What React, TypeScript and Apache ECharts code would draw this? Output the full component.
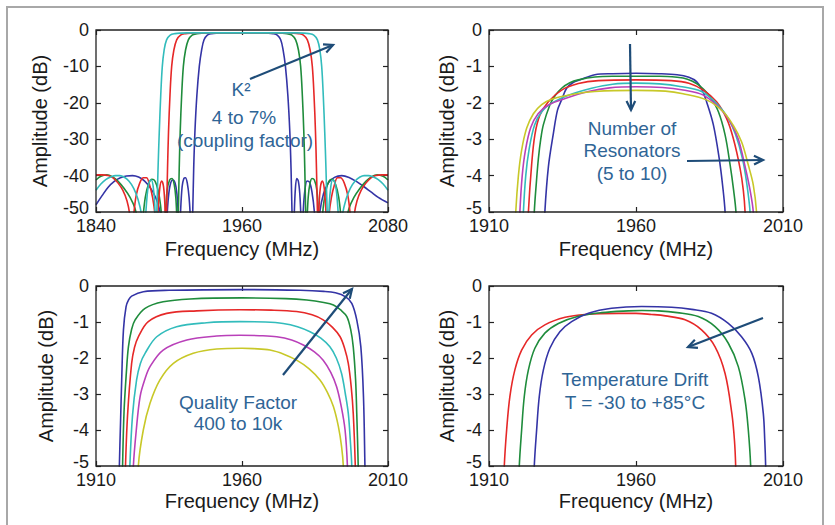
import React, { useEffect, useRef } from 'react';
import * as echarts from 'echarts';

// ---------- Panel 1: coupling factor K² 4..7 % (x 1840..2080, y -50..0) ----------
const p1XTicks = [1840, 1960, 2080];
const p1YRange = [-50, 0];
const p1Blue = [
  [1840, -48], [1845, -45.5], [1850, -43.2], [1855, -41.6], [1860, -40.6], [1865, -40.1], [1870, -40], [1875, -40.4],
  [1880, -41.5], [1885, -43.5], [1889, -46], [1892, -49], [1894.5, -53], [1896.5, -60], [1898, -53], [1899.5, -46],
  [1901, -42.5], [1903, -41.2], [1905, -42], [1906.5, -45], [1907.8, -52], [1908.5, -60], [1909.5, -50], [1910.8, -43],
  [1912.2, -40.8], [1913.5, -40.6], [1915, -42], [1916.5, -46], [1917.8, -53], [1918.6, -60],
  [1919.5, -50], [1920.3, -38], [1921.3, -28], [1922.9, -18], [1924.9, -10], [1926.8, -5.5], [1928.8, -2.7],
  [1931.5, -1.4], [1935, -1.0], [1939, -0.85], [1945, -0.8], [1960, -0.8], [1975, -0.8], [1981.5, -0.85],
  [1985.5, -1.0], [1989, -1.4], [1991.8, -2.7], [1993.8, -5.5], [1995.7, -10], [1997.7, -18], [1999.3, -28],
  [2000.3, -38], [2001.1, -50], [2002, -60], [2002.8, -52], [2003.8, -44], [2005, -40.8], [2006.3, -41.5],
  [2007.5, -45], [2008.5, -52], [2009.3, -60], [2010.3, -50], [2011.7, -44], [2013.5, -41.5], [2015.5, -41.8],
  [2017.5, -44.5], [2019.5, -50], [2021.5, -60], [2024, -50], [2027, -45], [2031, -42], [2036, -40.5], [2042, -40],
  [2048, -40.5], [2054, -41.6], [2060, -43], [2066, -44.5], [2072, -46], [2080, -47.5],
];
const p1Green = [
  [1840, -41.2], [1844, -40.2], [1848.8, -39.8], [1853, -40.2], [1858, -41.5], [1863, -43.5], [1868, -46], [1872, -49],
  [1874.5, -53], [1876.5, -60], [1878.5, -52], [1880.5, -46], [1883, -42.5], [1886, -41], [1888.5, -41.5], [1891, -44],
  [1893, -48], [1894.5, -54], [1895.5, -60], [1897, -51], [1898.5, -44], [1900.5, -41.2], [1902.5, -40.8],
  [1904.3, -42.5], [1905.6, -46], [1906.6, -53], [1907.2, -60],
  [1907.7, -50], [1908.4, -38], [1909.2, -28], [1910.4, -18], [1911.8, -10], [1913.6, -5.5], [1915.9, -2.7],
  [1919, -1.4], [1923, -1.0], [1927, -0.85], [1933, -0.8], [1960, -0.8], [1987, -0.8], [1993, -0.85], [1997, -1.0],
  [2001, -1.4], [2004.1, -2.7], [2006.4, -5.5], [2008.2, -10], [2009.6, -18], [2010.8, -28], [2011.6, -38],
  [2012.3, -50], [2012.8, -60], [2013.4, -53], [2014.4, -46], [2015.7, -42.5], [2017.5, -40.8], [2019.5, -41.2],
  [2021.5, -44], [2023, -51], [2024.5, -60], [2025.5, -54], [2027, -48], [2029, -44], [2031.5, -41.5], [2034, -41],
  [2037, -42.5], [2039.5, -46], [2041.5, -52], [2043.5, -60], [2045.5, -53], [2048, -49], [2052, -46], [2057, -43.5],
  [2062, -41.5], [2067, -40.2], [2071.2, -39.8], [2076, -40.2], [2080, -41.2],
];
const p1Red = [
  [1840, -39.8], [1845, -39.8], [1850, -40], [1854, -40.6], [1858, -42], [1862, -44], [1865.5, -47], [1867.8, -51],
  [1869.3, -60], [1871, -51], [1873, -45.5], [1876, -42], [1879, -40.6], [1881.5, -40.6], [1884, -42.5], [1886.5, -46],
  [1888.5, -51], [1889.7, -60], [1891, -50], [1892.4, -43.5], [1894, -41.5], [1895.5, -43], [1896.6, -48], [1897.3, -60],
  [1898, -50], [1898.8, -38], [1899.6, -28], [1900.8, -18], [1902.2, -10], [1904, -5.5], [1906.3, -2.7], [1909.5, -1.4],
  [1913.5, -1.0], [1918, -0.85], [1924, -0.8], [1960, -0.8], [1996, -0.8], [2002, -0.85], [2006.5, -1.0],
  [2010.5, -1.4], [2013.7, -2.7], [2016, -5.5], [2017.8, -10], [2019.2, -18], [2020.4, -28], [2021.2, -38],
  [2022, -50], [2022.7, -60], [2023.4, -48], [2024.5, -43], [2026, -41.5], [2027.6, -43.5], [2029, -50], [2030.3, -60],
  [2031.5, -51], [2033.5, -46], [2036, -42.5], [2038.5, -40.6], [2041, -40.6], [2044, -42], [2047, -45.5], [2049, -51],
  [2050.7, -60], [2052.2, -51], [2054.5, -47], [2058, -44], [2062, -42], [2066, -40.6], [2070, -40], [2075, -39.8],
  [2080, -39.8],
];
const p1Cyan = [
  [1840, -44], [1844, -42.3], [1848, -41.1], [1852, -40.4], [1856, -40], [1859.7, -40], [1863, -40.4], [1867, -41.5],
  [1871, -43.5], [1874.5, -46.5], [1877.5, -51], [1879.3, -60], [1881, -50], [1882.5, -44], [1884, -41.5],
  [1885.5, -41.2], [1887, -43], [1888.3, -48], [1889.1, -60],
  [1890, -50], [1891, -38], [1892, -28], [1893.2, -18], [1894.5, -10], [1896, -5.5], [1898, -2.7], [1901, -1.4],
  [1905, -1.0], [1909.5, -0.85], [1915, -0.8], [1960, -0.8], [2005, -0.8], [2010.5, -0.85], [2015, -1.0],
  [2019, -1.4], [2022, -2.7], [2024, -5.5], [2025.5, -10], [2026.8, -18], [2028, -28], [2029, -38], [2030, -50],
  [2030.9, -60], [2031.7, -48], [2033, -43], [2034.5, -41.2], [2036, -41.5], [2037.5, -44], [2039, -50], [2040.7, -60],
  [2042.5, -51], [2045.5, -46.5], [2049, -43.5], [2053, -41.5], [2057, -40.4], [2060.3, -40], [2064, -40],
  [2068, -40.4], [2072, -41.1], [2076, -42.3], [2080, -44],
];

// ---------- Panel 2: number of resonators 5..10 (x 1910..2010, y -5..0) ----------
const p2XTicks = [1910, 1960, 2010];
const p2YRange = [-5, 0];
const p2Blue = [
  [1928.6, -6], [1929, -5], [1930.2, -3.76], [1931.9, -2.84], [1933.3, -2.2], [1934.7, -1.92], [1936.4, -1.6],
  [1938.5, -1.45], [1941, -1.37], [1946, -1.23], [1952, -1.2], [1960, -1.19], [1968, -1.2], [1974, -1.23],
  [1978, -1.3], [1980.6, -1.42], [1982.5, -1.65], [1984, -1.97], [1986.3, -2.6], [1988.3, -3.53], [1989.5, -4.3],
  [1990.3, -5], [1990.6, -6],
];
const p2Green = [
  [1925, -6], [1925.4, -5], [1926.1, -4.2], [1926.8, -3.53], [1927.6, -3], [1928.5, -2.6], [1930.7, -2.06],
  [1932.5, -1.8], [1934.7, -1.6], [1937.5, -1.45], [1940.4, -1.37], [1946, -1.29], [1952, -1.27], [1960, -1.27],
  [1968, -1.27], [1974, -1.3], [1977.5, -1.35], [1980.6, -1.47], [1983, -1.63], [1985.2, -1.83], [1988, -2.24],
  [1990.3, -2.88], [1992, -3.7], [1993.2, -4.4], [1994, -5], [1994.4, -6],
];
const p2Red = [
  [1923, -6], [1923.4, -5], [1924.5, -3.7], [1925.6, -2.88], [1927.3, -2.34], [1930.2, -1.97], [1934.7, -1.65],
  [1940.4, -1.47], [1947.2, -1.39], [1960, -1.37], [1972, -1.39], [1978, -1.46], [1982.9, -1.65], [1987.4, -1.97],
  [1990.8, -2.43], [1993.1, -2.98], [1995.4, -3.8], [1996.5, -4.4], [1997.1, -5], [1997.5, -6],
];
const p2Cyan = [
  [1921.3, -6], [1921.7, -5], [1922.5, -4], [1923.6, -3.3], [1925.5, -2.61], [1928, -2.24], [1931.3, -2.01],
  [1937, -1.79], [1944.9, -1.6], [1952, -1.49], [1960, -1.46], [1968, -1.48], [1975, -1.55], [1982.3, -1.69],
  [1987.9, -2.06], [1991.3, -2.42], [1993.9, -2.88], [1996.2, -3.53], [1997.6, -4.17], [1998.8, -5], [1999.2, -6],
];
const p2Magenta = [
  [1920.1, -6], [1920.5, -5], [1921.3, -4], [1922.4, -3.3], [1924.2, -2.68], [1926.7, -2.3], [1930.2, -2.06],
  [1935.9, -1.88], [1943.8, -1.69], [1951, -1.59], [1960, -1.56], [1969, -1.58], [1976, -1.65], [1982.9, -1.79],
  [1988.5, -2.15], [1991.9, -2.5], [1994.8, -3.0], [1997.1, -3.75], [1998.8, -4.4], [1999.9, -5], [2000.3, -6],
];
const p2Yellow = [
  [1918.7, -6], [1919.1, -5], [1920, -4], [1921.1, -3.3], [1922.8, -2.7], [1925.1, -2.3], [1927.9, -2.05],
  [1931.3, -1.9], [1938.1, -1.77], [1946, -1.69], [1960, -1.66], [1970, -1.68], [1976, -1.75], [1984, -1.92],
  [1989.6, -2.24], [1993, -2.61], [1995.9, -3.07], [1998.2, -3.71], [1999.9, -4.26], [2001, -5], [2001.4, -6],
];

// ---------- Panel 3: quality factor 400..10k ----------
const p3XTicks = [1910, 1960, 2010];
const p3YRange = [-5, 0];
const p3Blue = [
  [1917.8, -6], [1918, -5], [1918.4, -3.8], [1918.8, -2.61], [1919.4, -1.22], [1920.3, -0.57], [1921.2, -0.38],
  [1922.2, -0.28], [1926.2, -0.16], [1935, -0.12], [1960, -0.1], [1980, -0.12], [1988, -0.15], [1992, -0.19],
  [1995.5, -0.3], [1997.6, -0.48], [1999.3, -0.94], [2000.7, -1.69], [2001.6, -3.07], [2002.1, -5], [2002.3, -6],
];
const p3Green = [
  [1918.9, -6], [1919.1, -5], [1919.6, -3.5], [1920.4, -2.4], [1921.1, -1.69], [1922.2, -1.2], [1923.4, -0.94],
  [1926.8, -0.62], [1933, -0.44], [1942.2, -0.36], [1960, -0.33], [1975, -0.35], [1982.2, -0.39], [1988, -0.46],
  [1991.3, -0.53], [1994, -0.68], [1995.9, -0.85], [1997.2, -1.2], [1998.1, -1.69], [1998.9, -2.6], [1999.3, -3.54],
  [1999.8, -5], [2000, -6],
];
const p3Red = [
  [1919.8, -6], [1920.1, -5], [1920.8, -3.6], [1922.2, -2.15], [1923.2, -1.7], [1924.5, -1.41], [1927.9, -0.99],
  [1934.2, -0.76], [1944.5, -0.69], [1959.3, -0.66], [1970, -0.67], [1978.7, -0.71], [1984, -0.8], [1987.8, -0.94],
  [1991, -1.15], [1993.6, -1.41], [1995.2, -1.75], [1996.4, -2.15], [1997.4, -2.8], [1998.1, -3.54], [1998.8, -5],
  [1999, -6],
];
const p3Cyan = [
  [1921.3, -6], [1921.6, -5], [1922.5, -3.6], [1923.9, -2.61], [1925.2, -2.15], [1926.8, -1.87], [1930.8, -1.41],
  [1937.6, -1.13], [1947.9, -1.02], [1959.3, -0.99], [1968, -1.0], [1974.1, -1.04], [1979, -1.13], [1983.3, -1.27],
  [1987, -1.45], [1990.1, -1.69], [1992.3, -2.0], [1994.1, -2.43], [1995.4, -3], [1996.4, -3.54], [1997.1, -4.3],
  [1997.6, -5], [1997.8, -6],
];
const p3Magenta = [
  [1922.5, -6], [1922.8, -5], [1923.8, -4], [1925.1, -3.07], [1926.7, -2.6], [1928.5, -2.24], [1933, -1.78],
  [1941.1, -1.5], [1951.3, -1.39], [1959.3, -1.37], [1966, -1.38], [1971.9, -1.41], [1977, -1.5], [1981, -1.64],
  [1984.8, -1.83], [1987.8, -2.06], [1990.4, -2.4], [1992.4, -2.8], [1994, -3.35], [1995.3, -4], [1996.1, -5],
  [1996.3, -6],
];
const p3Yellow = [
  [1924.2, -6], [1924.5, -5], [1926.2, -4], [1928.5, -3.26], [1931.9, -2.61], [1936.5, -2.15], [1943.3, -1.87],
  [1951.3, -1.75], [1960, -1.73], [1964, -1.74], [1969.6, -1.78], [1974.5, -1.9], [1978.7, -2.06], [1983, -2.3],
  [1986.7, -2.61], [1989.2, -2.95], [1991.3, -3.35], [1993, -3.9], [1994.1, -4.46], [1994.7, -5], [1994.9, -6],
];

// ---------- Panel 4: temperature drift -30..+85 °C ----------
const p4XTicks = [1910, 1960, 2010];
const p4YRange = [-5, 0];
const p4Red = [
  [1914.9, -6], [1915.2, -5], [1916, -4], [1917.1, -3.07], [1918.8, -2.33], [1921.1, -1.78], [1924.5, -1.36],
  [1929, -1.08], [1935.9, -0.87], [1942.7, -0.79], [1954, -0.76], [1960, -0.76], [1965.3, -0.79], [1970, -0.83],
  [1976.7, -0.94], [1982.3, -1.22], [1986.9, -1.69], [1990.3, -2.43], [1992.6, -3.54], [1993.5, -4.3],
  [1993.9, -5], [1994.1, -6],
];
const p4Green = [
  [1920, -6], [1920.3, -5], [1921.1, -4], [1922, -3.07], [1923.4, -2.33], [1925.6, -1.73], [1929, -1.31],
  [1933.6, -1.04], [1940.4, -0.84], [1948.3, -0.74], [1957.4, -0.69], [1962, -0.68], [1967.6, -0.69], [1974, -0.74],
  [1981.2, -0.85], [1986.9, -1.13], [1991.4, -1.59], [1994.8, -2.24], [1997.1, -3.17], [1998.2, -4], [1999, -5],
  [1999.2, -6],
];
const p4Blue = [
  [1925.1, -6], [1925.4, -5], [1926.2, -4], [1927.1, -3.07], [1928.5, -2.33], [1930.7, -1.73], [1934.1, -1.27],
  [1938.1, -0.99], [1943.8, -0.76], [1951.7, -0.62], [1961.9, -0.57], [1972.1, -0.59], [1979, -0.65], [1985.7, -0.76],
  [1991.4, -1.04], [1995.9, -1.41], [1999.4, -1.87], [2001.6, -2.52], [2003.3, -3.54], [2003.8, -4.3], [2004.1, -5],
  [2004.3, -6],
];

// ---------- styles ----------
const C = {
  blue: '#3434a6',
  green: '#1f8c3c',
  red: '#e62828',
  cyan: '#32bcbc',
  magenta: '#b940b9',
  yellow: '#c8c828',
};
const TEXT_BLUE = '#2f6596';
const ARROW_BLUE = '#1e4c78';
const AXIS_COLOR = '#222';
const LABEL_COLOR = '#1a1a1a';
const FONT = '"Liberation Sans", Arial, sans-serif';

const GRIDS = [
  { left: 96, top: 30, width: 292, height: 182 },
  { left: 489, top: 30, width: 294, height: 182 },
  { left: 96, top: 286, width: 292, height: 180 },
  { left: 489, top: 286, width: 294, height: 180 },
];

export default function App() {
  const ref = useRef<HTMLDivElement>(null);
  useEffect(() => {
    if (!ref.current) return;
    const tickSize = 18;
    const nameSize = 20;
    const noteSize = 19;

    const chart = echarts.init(ref.current, null, { renderer: 'svg' });

    const panels = [
      { xr: [1840, 2080], yr: p1YRange, xt: p1XTicks, yi: 10, ygap: 46, xgap: 27,
        series: [[p1Blue, C.blue], [p1Green, C.green], [p1Red, C.red], [p1Cyan, C.cyan]] },
      { xr: [1910, 2010], yr: p2YRange, xt: p2XTicks, yi: 1, ygap: 32, xgap: 27,
        series: [[p2Blue, C.blue], [p2Green, C.green], [p2Red, C.red], [p2Cyan, C.cyan], [p2Magenta, C.magenta], [p2Yellow, C.yellow]] },
      { xr: [1910, 2010], yr: p3YRange, xt: p3XTicks, yi: 1, ygap: 40, xgap: 25,
        series: [[p3Blue, C.blue], [p3Green, C.green], [p3Red, C.red], [p3Cyan, C.cyan], [p3Magenta, C.magenta], [p3Yellow, C.yellow]] },
      { xr: [1910, 2010], yr: p4YRange, xt: p4XTicks, yi: 1, ygap: 32, xgap: 25,
        series: [[p4Red, C.red], [p4Green, C.green], [p4Blue, C.blue]] },
    ];

    const grid: any[] = [];
    const xAxis: any[] = [];
    const yAxis: any[] = [];
    const series: any[] = [];
    const noLine = { show: false, onZero: false };
    const tick = (custom?: number[]) => ({
      show: true, inside: true, length: 5, lineStyle: { color: AXIS_COLOR, width: 1.2 },
      ...(custom ? { customValues: custom } : {}),
    });

    panels.forEach((p, i) => {
      grid.push({
        ...GRIDS[i], containLabel: false, outerBoundsMode: 'none',
        show: true, borderColor: AXIS_COLOR, borderWidth: 1.3, backgroundColor: 'transparent', z: 5,
      });
      const minY = p.yr[0];
      xAxis.push({
        type: 'value', gridIndex: i, position: 'bottom', min: p.xr[0], max: p.xr[1],
        axisLine: noLine, splitLine: { show: false }, axisTick: tick(p.xt),
        axisLabel: {
          show: true, customValues: p.xt, margin: 5, color: LABEL_COLOR, fontSize: tickSize, fontFamily: FONT,
          formatter: (v: number) => String(v),
        },
        name: 'Frequency (MHz)', nameLocation: 'middle', nameGap: p.xgap, nameMoveOverlap: false,
        nameTextStyle: { color: LABEL_COLOR, fontSize: nameSize, fontFamily: FONT },
      });
      xAxis.push({
        type: 'value', gridIndex: i, position: 'top', min: p.xr[0], max: p.xr[1],
        axisLine: noLine, splitLine: { show: false }, axisTick: tick(p.xt), axisLabel: { show: false },
      });
      yAxis.push({
        type: 'value', gridIndex: i, position: 'left', min: p.yr[0], max: p.yr[1], interval: p.yi,
        axisLine: noLine, splitLine: { show: false }, axisTick: tick(),
        axisLabel: {
          show: true, margin: 7, color: LABEL_COLOR, fontSize: tickSize, fontFamily: FONT,
          formatter: (v: number) => (v === minY ? `{lo|${v}}` : String(v)),
          rich: { lo: { color: LABEL_COLOR, fontSize: tickSize, fontFamily: FONT, padding: [0, 0, 8, 0] } },
        },
        name: 'Amplitude (dB)', nameLocation: 'middle', nameGap: p.ygap, nameMoveOverlap: false,
        nameTextStyle: { color: LABEL_COLOR, fontSize: nameSize, fontFamily: FONT },
      });
      yAxis.push({
        type: 'value', gridIndex: i, position: 'right', min: p.yr[0], max: p.yr[1], interval: p.yi,
        axisLine: noLine, splitLine: { show: false }, axisTick: tick(), axisLabel: { show: false },
      });
      p.series.forEach(([data, color]: any) => {
        series.push({
          type: 'line', xAxisIndex: 2 * i, yAxisIndex: 2 * i, data, showSymbol: false, symbol: 'none',
          smooth: 0.35, clip: true, lineStyle: { color, width: 1.6 }, itemStyle: { color },
        });
      });
    });

    const arrow = (x1: number, y1: number, x2: number, y2: number) => {
      const dx = x2 - x1, dy = y2 - y1, L = Math.hypot(dx, dy), ux = dx / L, uy = dy / L;
      const h = 10, a = Math.PI / 7;
      const wing = (s: number) => {
        const c = Math.cos(s * a), sn = Math.sin(s * a);
        const rx = ux * c - uy * sn, ry = ux * sn + uy * c;
        return [x2 - h * rx, y2 - h * ry];
      };
      return [
        { type: 'line', z: 100, shape: { x1, y1, x2, y2 }, style: { stroke: ARROW_BLUE, lineWidth: 2.2 } },
        { type: 'polyline', z: 100, shape: { points: [wing(1), [x2, y2], wing(-1)] }, style: { stroke: ARROW_BLUE, lineWidth: 2.2, fill: 'none' } },
      ];
    };
    const note = (x: number, y: number, text: string) => ({
      type: 'text', z: 100, x, y,
      style: {
        text, fill: TEXT_BLUE, fontSize: noteSize, fontFamily: FONT,
        align: 'center', verticalAlign: 'middle', textAlign: 'center', textVerticalAlign: 'middle',
      },
    });

    const graphic: any[] = [
      { type: 'rect', z: 0, shape: { x: 7, y: 7, width: 816, height: 540 }, style: { fill: 'none', stroke: '#a8a8a8', lineWidth: 2 } },
      ...arrow(250, 79, 333, 45),
      note(241, 89, 'K²'),
      note(244, 117, '4 to 7%'),
      note(245, 140, '(coupling factor)'),
      ...arrow(630, 44, 631, 110),
      ...arrow(687, 161, 763, 160),
      note(632, 128, 'Number of'),
      note(632, 150, 'Resonators'),
      note(632, 173, '(5 to 10)'),
      ...arrow(283, 375, 352, 289),
      note(238, 402, 'Quality Factor'),
      note(238, 423, '400 to 10k'),
      ...arrow(763, 318, 688, 347),
      note(635, 379, 'Temperature Drift'),
      note(635, 402, 'T = -30 to +85°C'),
    ];

    chart.setOption({
      animation: false,
      backgroundColor: '#ffffff',
      grid, xAxis, yAxis, series, graphic,
    });
    return () => chart.dispose();
  }, []);

  return <div ref={ref} style={{ position: 'absolute', left: 0, top: 0, width: 835, height: 525 }} />;
}
